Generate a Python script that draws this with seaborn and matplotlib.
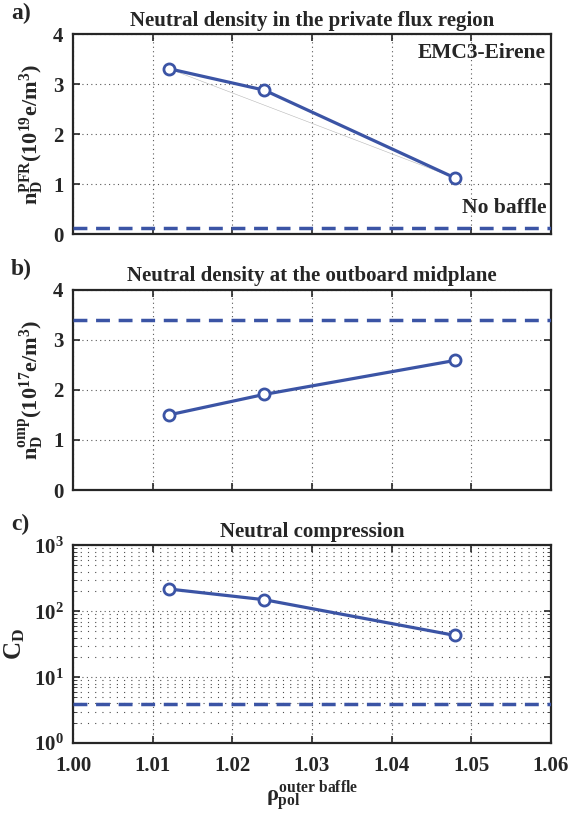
import numpy as np
import seaborn as sns
import matplotlib
matplotlib.use("Agg")
import matplotlib.pyplot as plt
from matplotlib.ticker import LogLocator, NullFormatter

# datos
rho_baffle = [1.012, 1.024, 1.048]
n_pfr = [3.31, 2.88, 1.12]
n_pfr_nobaffle = 0.12
n_omp = [1.50, 1.91, 2.59]
n_omp_nobaffle = 3.39
c_d = [218, 150, 43]
c_d_nobaffle = 3.9

titles = ["Neutral density in the private flux region",
          "Neutral density at the outboard midplane",
          "Neutral compression"]
panel_tags = ["a)", "b)", "c)"]
x_ticks = [1.00, 1.01, 1.02, 1.03, 1.04, 1.05, 1.06]

sns.set_style("ticks")
plt.rcParams["font.family"] = ["Liberation Serif", "DejaVu Serif"]
plt.rcParams["font.weight"] = "bold"
plt.rcParams["mathtext.fontset"] = "custom"
plt.rcParams["mathtext.rm"] = "Liberation Serif:bold"
plt.rcParams["mathtext.it"] = "Liberation Serif:bold"
plt.rcParams["mathtext.bf"] = "Liberation Serif:bold"

azul = "#3b54a5"

fig = plt.figure(figsize=(5.72, 8.14), dpi=100)
left, width = 0.128, 0.835
ax_a = fig.add_axes([left, 0.7125, width, 0.2455])
ax_b = fig.add_axes([left, 0.398, width, 0.246])
ax_c = fig.add_axes([left, 0.087, width, 0.243])

series = [(ax_a, n_pfr, n_pfr_nobaffle), (ax_b, n_omp, n_omp_nobaffle), (ax_c, c_d, c_d_nobaffle)]

for i, (ax, vals, nob) in enumerate(series):
    if i == 0:
        # linea fina gris entre primer y ultimo punto
        ax.plot([rho_baffle[0], rho_baffle[-1]], [vals[0], vals[-1]], color="0.72", lw=0.4, zorder=2)
    sns.lineplot(x=rho_baffle, y=vals, ax=ax, color=azul, lw=2.3, marker="o",
                 markersize=8, markerfacecolor="white", markeredgecolor=azul,
                 markeredgewidth=2.0, zorder=4)
    ax.axhline(nob, color=azul, lw=2.5, linestyle=(0, (4, 2.5)), zorder=3)
    ax.set_xlim(1.00, 1.06)
    ax.set_xticks(x_ticks)
    ax.set_title(titles[i], fontsize=15, fontweight="bold", pad=6)
    ax.text(-0.13, 1.05, panel_tags[i], transform=ax.transAxes, fontsize=17,
            fontweight="bold", ha="left", va="bottom")
    ax.tick_params(direction="in", top=True, right=True, labelsize=15, length=5, width=1.2)
    ax.tick_params(axis="y", pad=7)
    ax.tick_params(axis="x", pad=9)
    for s in ax.spines.values():
        s.set_linewidth(1.6)
    if i < 2:
        ax.set_ylim(0, 4)
        ax.set_yticks([0, 1, 2, 3, 4])
        ax.tick_params(labelbottom=False)
        ax.grid(True, which="major", color="0.35", linestyle=(0, (1, 3)), lw=0.8)
    else:
        ax.set_yscale("log")
        ax.set_ylim(1, 1000)
        ax.yaxis.set_major_locator(LogLocator(base=10, numticks=10))
        ax.yaxis.set_minor_locator(LogLocator(base=10, subs=np.arange(2, 10), numticks=20))
        ax.yaxis.set_minor_formatter(NullFormatter())
        ax.tick_params(which="minor", direction="in", right=True, length=3)
        ax.set_xticklabels([f"{t:.2f}" for t in x_ticks])
        ax.grid(True, which="major", axis="both", color="0.35", linestyle=(0, (1, 3)), lw=0.8)
        ax.grid(True, which="minor", axis="y", color="0.3", linestyle=(0, (1, 5.5)), lw=0.8)

ax_a.set_ylabel(r"$\mathrm{n_D^{PFR}(10^{19}e/m^3)}$", fontsize=16, labelpad=5)
ax_b.set_ylabel(r"$\mathrm{n_D^{omp}(10^{17}e/m^3)}$", fontsize=16, labelpad=5)
ax_c.set_ylabel(r"$\mathrm{C_D}$", fontsize=18, labelpad=5)
ax_c.set_xlabel(r"$\rho_{\mathrm{pol}}^{\mathrm{outer\ baffle}}$", fontsize=16, labelpad=2)

ax_a.text(0.99, 0.955, "EMC3-Eirene", transform=ax_a.transAxes, ha="right", va="top",
          fontsize=15.5, fontweight="bold")
ax_a.text(0.99, 0.08, "No baffle", transform=ax_a.transAxes, ha="right", va="bottom",
          fontsize=15.5, fontweight="bold")

fig.savefig("out.png", dpi=100)
print("[INFO] Figura guardada en out.png")
